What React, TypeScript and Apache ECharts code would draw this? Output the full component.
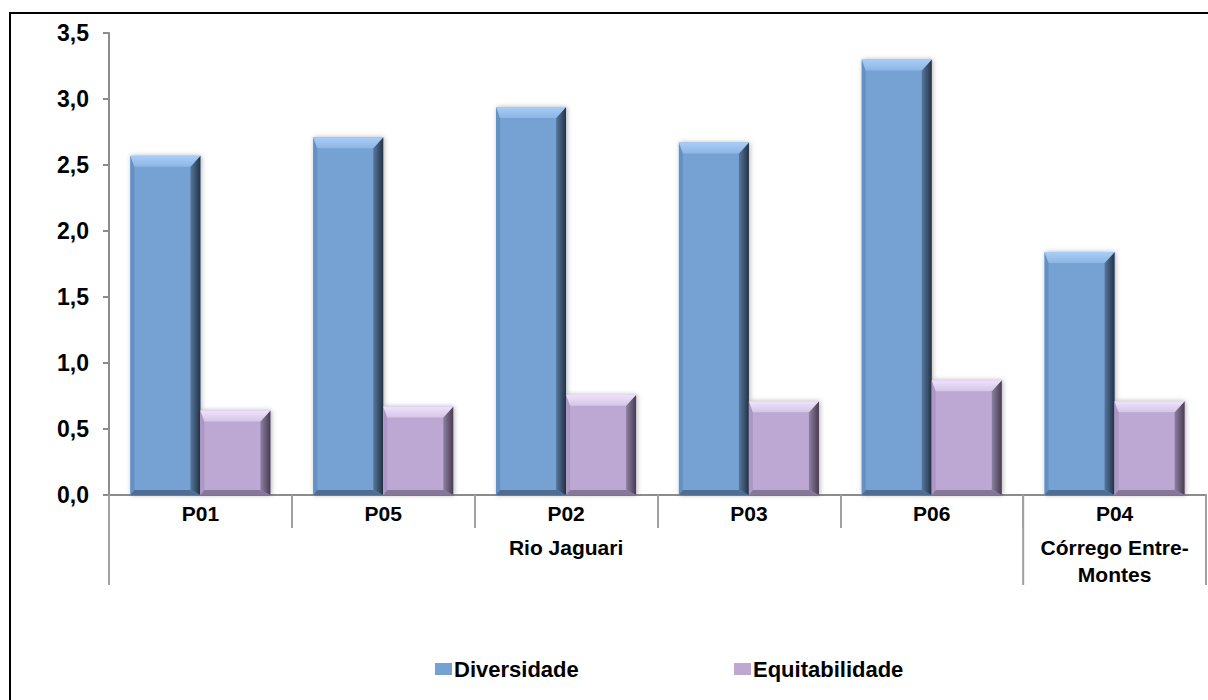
import React, { useEffect, useRef } from "react";
import * as echarts from "echarts";

// Sampling points along the rivers
const categories = ["P01", "P05", "P02", "P03", "P06", "P04"];
// Second row of axis labels (water body of each point)
const groupLabels = ["", "", "Rio Jaguari", "", "", "Córrego Entre-\nMontes"];
// Indices of category boundaries that separate the water bodies
const groupBoundaries = [0, 5, 6];

const diversidade = [2.57, 2.71, 2.94, 2.67, 3.3, 1.84];
const equitabilidade = [0.64, 0.67, 0.76, 0.71, 0.87, 0.71];

const seriesNames = ["Diversidade", "Equitabilidade"];

const FONT = '"Liberation Sans", Arial, Helvetica, sans-serif';

type Palette = {
  main: string;
  topOuter: string;
  topInner: string;
  left: string;
  rightInner: string;
  rightOuter: string;
  bottom: string;
};

const palettes: Palette[] = [
  {
    main: "#75a1d3",
    topOuter: "#a9cdf6",
    topInner: "#8db6e6",
    left: "#6690c1",
    rightInner: "#56779f",
    rightOuter: "#243245",
    bottom: "#4f6d92",
  },
  {
    main: "#bca8d3",
    topOuter: "#eee3fb",
    topInner: "#d5c5e8",
    left: "#ac98c4",
    rightInner: "#8f80a3",
    rightOuter: "#463c50",
    bottom: "#85769a",
  },
];

function bevelBar(x0: number, y0: number, w: number, h: number, pal: Palette) {
  const x1 = x0 + w;
  const y1 = y0 + h;
  const bt = Math.min(11, h / 2);
  const bb = Math.min(5, h / 3);
  const br = 10;
  const bl = 4;
  const lin = (x: number, y: number, x2: number, y2: number, a: string, b: string) =>
    new echarts.graphic.LinearGradient(x, y, x2, y2, [
      { offset: 0, color: a },
      { offset: 1, color: b },
    ]);
  return [
    {
      type: "rect",
      shape: { x: x0, y: y0, width: w, height: h },
      style: {
        fill: pal.main,
        shadowBlur: 5,
        shadowColor: "rgba(0,0,0,0.3)",
        shadowOffsetX: 1,
      },
    },
    {
      type: "polygon",
      shape: { points: [[x0, y0], [x0 + bl, y0 + bt], [x0 + bl, y1 - bb], [x0, y1]] },
      style: { fill: pal.left },
    },
    {
      type: "polygon",
      shape: { points: [[x0, y1], [x0 + bl, y1 - bb], [x1 - br, y1 - bb], [x1, y1]] },
      style: { fill: pal.bottom },
    },
    {
      type: "polygon",
      shape: { points: [[x1, y0], [x1, y1], [x1 - br, y1 - bb], [x1 - br, y0 + bt]] },
      style: { fill: lin(0, 0, 1, 0, pal.rightInner, pal.rightOuter) },
    },
    {
      type: "polygon",
      shape: { points: [[x0, y0], [x1, y0], [x1 - br, y0 + bt], [x0 + bl, y0 + bt]] },
      style: { fill: lin(0, 0, 0, 1, pal.topOuter, pal.topInner) },
    },
  ];
}

function makeSeries(idx: number, values: number[]) {
  return {
    type: "custom",
    name: seriesNames[idx],
    itemStyle: { color: palettes[idx].main },
    data: values.map((v, i) => [i, v]),
    encode: { x: 0, y: 1 },
    renderItem: (params: any, api: any) => {
      const cat = api.value(0);
      const val = api.value(1);
      const base = api.coord([cat, 0]);
      const top = api.coord([cat, val]);
      const catWidth = api.size([1, 0])[0];
      const barW = catWidth * 0.383;
      const x0 = idx === 0 ? base[0] - barW : base[0];
      return {
        type: "group",
        children: bevelBar(x0, top[1], barW, base[1] - top[1], palettes[idx]),
      };
    },
  };
}

export default function App() {
  const ref = useRef<HTMLDivElement>(null);

  useEffect(() => {
    if (!ref.current) return;
    const chart = echarts.init(ref.current, undefined, { renderer: "svg" });
    const labelStyle = { fontFamily: FONT, fontWeight: "bold" as const, fontSize: 21, color: "#000" };
    const legendText = { ...labelStyle, fontSize: 22, padding: [0, 0, 0, -3] };

    chart.setOption({
      animation: false,
      backgroundColor: "#fff",
      grid: { left: 109, right: 2, top: 33, bottom: 205 },
      legend: [
        {
          data: [seriesNames[0]],
          left: 430,
          top: 653,
          icon: "rect",
          itemWidth: 17,
          itemHeight: 12,
          textStyle: legendText,
        },
        {
          data: [seriesNames[1]],
          left: 729,
          top: 653,
          icon: "rect",
          itemWidth: 17,
          itemHeight: 12,
          textStyle: legendText,
        },
      ],
      xAxis: [
        {
          type: "category",
          data: categories,
          axisLine: { lineStyle: { color: "#8c8c8c", width: 2 } },
          axisTick: { show: true, length: 33, interval: 0, lineStyle: { color: "#a0a0a0", width: 2 } },
          axisLabel: { ...labelStyle, margin: 5, lineHeight: 27, interval: 0 },
        },
        {
          type: "category",
          data: groupLabels,
          position: "bottom",
          axisLine: { show: false },
          axisTick: { show: false },
          axisLabel: { ...labelStyle, margin: 39, lineHeight: 27, interval: 0 },
        },
      ],
      yAxis: {
        type: "value",
        min: 0,
        max: 3.5,
        interval: 0.5,
        splitLine: { show: false },
        axisLine: { show: true, lineStyle: { color: "#8c8c8c", width: 2 } },
        axisTick: { show: true, length: 6, lineStyle: { color: "#8c8c8c", width: 2 } },
        axisLabel: {
          ...labelStyle,
          fontSize: 23,
          margin: 20,
          formatter: (v: number) => v.toFixed(1).replace(".", ","),
        },
      },
      series: [makeSeries(0, diversidade), makeSeries(1, equitabilidade)],
    });

    // Long separators between water bodies and the outer frame
    const c0 = chart.convertToPixel({ xAxisIndex: 0 }, 0) as number;
    const c1 = chart.convertToPixel({ xAxisIndex: 0 }, 1) as number;
    const step = c1 - c0;
    const yBase = chart.convertToPixel({ yAxisIndex: 0 }, 0) as number;
    const lines = groupBoundaries.map((b) => {
      const x = c0 - step / 2 + b * step;
      return {
        type: "line",
        shape: { x1: x, y1: yBase, x2: x, y2: yBase + 90 },
        style: { stroke: "#a0a0a0", lineWidth: 2 },
      };
    });
    chart.setOption({
      graphic: [
        ...lines,
        {
          type: "rect",
          shape: { x: 10, y: 13, width: 1210, height: 700 },
          style: { fill: "none", stroke: "#000", lineWidth: 2 },
          silent: true,
        },
      ],
    });

    return () => chart.dispose();
  }, []);

  return (
    <div
      ref={ref}
      style={{ position: "absolute", left: 0, top: 0, width: 1208, height: 700 }}
    />
  );
}
